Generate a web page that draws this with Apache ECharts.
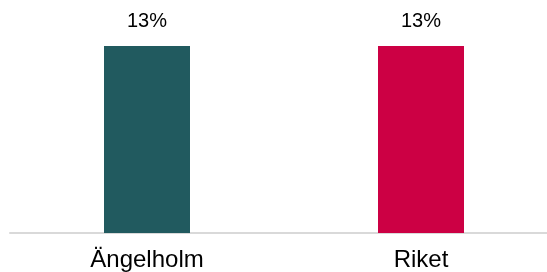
<!DOCTYPE html>
<html><head><meta charset="utf-8">
<script src="https://cdn.jsdelivr.net/npm/echarts@6/dist/echarts.min.js"></script>
<style>html,body{margin:0;padding:0;background:#fff}#c{width:547px;height:272px}</style>
</head><body><div id="c"></div>
<script>
const categories = ['Ängelholm', 'Riket'];
const values = [13, 13];
const barColors = ['#215a5f', '#cc0044'];

const chart = echarts.init(document.getElementById('c'), null, {renderer: 'canvas'});
chart.setOption({
  animation: false,
  grid: {left: 10, top: 46, width: 548, bottom: 39, containLabel: false, outerBoundsMode: 'none'},
  xAxis: {
    type: 'category', data: categories,
    axisLine: {show: true, lineStyle: {color: '#d9d9d9', width: 2}},
    axisTick: {show: false},
    axisLabel: {color: '#000', fontFamily: 'Liberation Sans, Arial', fontSize: 24, margin: 15}
  },
  yAxis: {type: 'value', min: 0, max: 13, show: false, splitLine: {show: false}},
  series: [{
    type: 'bar', barWidth: 86,
    data: values.map((v, i) => ({value: v, itemStyle: {color: barColors[i]}})),
    label: {show: true, position: 'top', distance: 15, color: '#000',
      fontFamily: 'Liberation Sans, Arial', fontSize: 20, formatter: p => p.value + '%'}
  }]
});
</script></body></html>
